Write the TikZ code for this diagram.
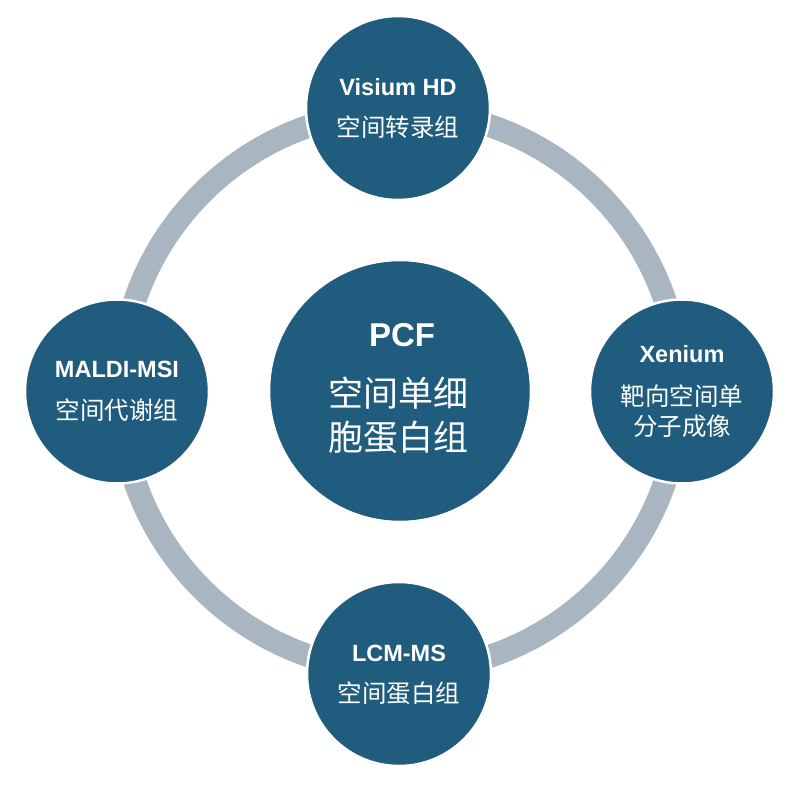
\documentclass[tikz,border=0pt]{standalone}
\usepackage{fontspec}
\setmainfont{Liberation Sans}
\newfontfamily\cjk{Noto Sans CJK SC}
\usetikzlibrary{positioning}

\definecolor{bubblefill}{RGB}{31,92,125}
\definecolor{ringgray}{RGB}{169,181,193}

\begin{document}
\begin{tikzpicture}[x=1pt,y=-1pt,
	ring/.style={draw=ringgray, line width=23pt},
	bubble/.style={circle, draw=white, line width=2.5pt, fill=bubblefill, minimum size=184pt, inner sep=0pt},
	hub/.style={bubble, minimum size=262pt},
	tag/.style={text=white, anchor=base, inner sep=0pt, font=\bfseries\fontsize{23.5}{24}\selectfont},
	note/.style={text=white, anchor=base, inner sep=0pt, font=\cjk\fontsize{24.5}{25}\selectfont},
	hubtag/.style={tag, font=\bfseries\fontsize{33}{34}\selectfont},
	hubnote/.style={note, font=\cjk\fontsize{35}{36}\selectfont}]

	\useasboundingbox (0,0) rectangle (800,784);

	%Ring
	\coordinate (ringc) at (400,391);
	\draw[ring] (ringc) circle[radius=280pt];

	%Circles
	\node[bubble] (visium) at (398,108) {};
	\node[bubble] (maldi) at (117,391.5) {};
	\node[bubble] (xenium) at (682,391.5) {};
	\node[bubble] (lcm) at (399,674) {};
	\node[hub] (pcf) at (400,391) {};

	%Labels
	%Visium HD
	\node[tag] (visiumname) at (398,95) {Visium HD};
	\node[note] (visiumtype) at (398,136) {空间转录组};

	%MALDI-MSI
	\node[tag] (maldiname) at (117,377) {MALDI-MSI};
	\node[note] (malditype) at (117,419) {空间代谢组};

	%Xenium
	\node[tag] (xeniumname) at (682,362) {Xenium};
	\node[note] (xeniumtypea) at (682,405) {靶向空间单};
	\node[note] (xeniumtypeb) at (682,435) {分子成像};

	%LCM-MS
	\node[tag] (lcmname) at (399,661) {LCM-MS};
	\node[note] (lcmtype) at (399,702) {空间蛋白组};

	%PCF
	\node[hubtag] (pcfname) at (402,346) {PCF};
	\node[hubnote] (pcftypea) at (398,406) {空间单细};
	\node[hubnote] (pcftypeb) at (398,450) {胞蛋白组};

\end{tikzpicture}
\end{document}
